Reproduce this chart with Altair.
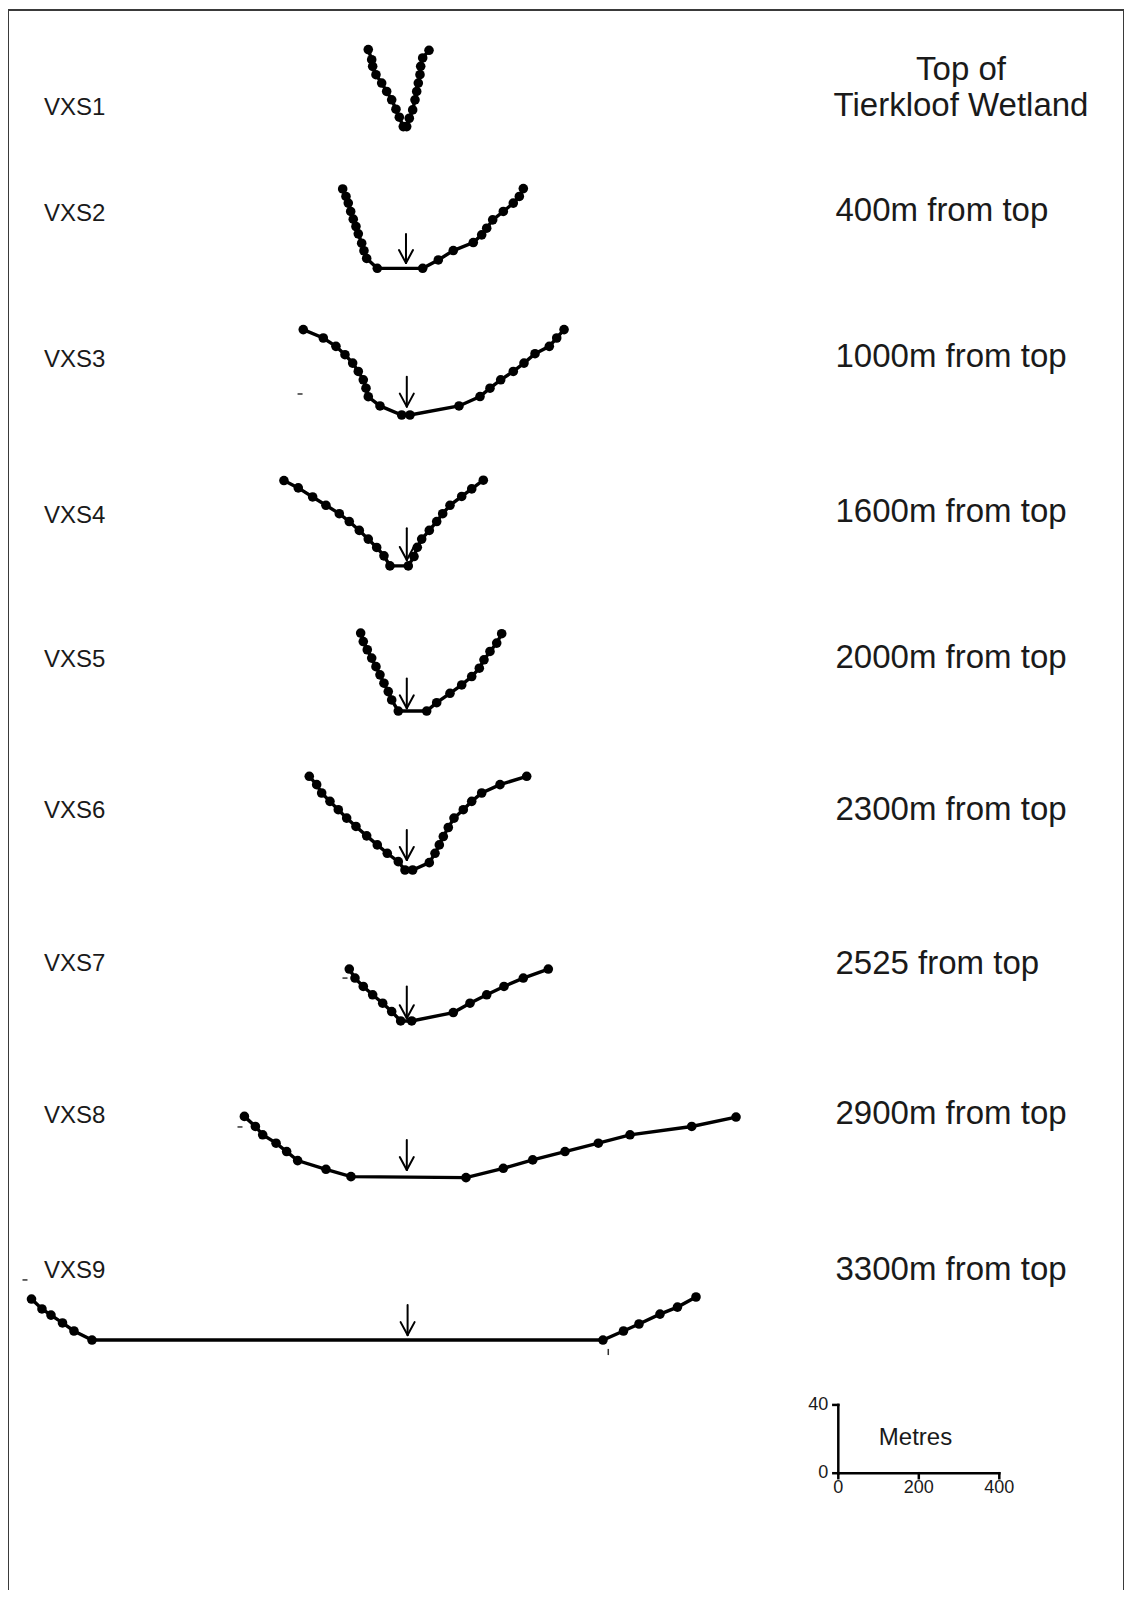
import altair as alt
import pandas as pd

# ---------------- data (distance across valley in m, elevation above bed in m) ----
profile_names = ["VXS1", "VXS2", "VXS3", "VXS4", "VXS5", "VXS6", "VXS7", "VXS8", "VXS9"]
right_labels = ["Top of\nTierkloof Wetland", "400m from top", "1000m from top", "1600m from top",
                "2000m from top", "2300m from top", "2525 from top", "2900m from top", "3300m from top"]

vxs1_dist = [-93.7, -85.2, -82.8, -74.6, -60.4, -48.0, -35.5, -24.9, -16.6, -6.7, 1.7, 8.2, 16.6,
             22.4, 26.6, 30.6, 34.8, 36.5, 41.5, 57.2]
vxs1_elev = [45.1, 39.2, 35.3, 30.4, 25.5, 20.6, 15.7, 10.2, 5.5, 0, 0, 4.9, 9.8, 15.7, 20.6, 25.5,
             30.4, 35.3, 40.2, 44.7]

vxs2_dist = [-157.3, -149.1, -143.4, -137.4, -131.0, -124.3, -118.5, -110.1, -104.4, -97.7, -71.3,
             41.5, 80.3, 117.5, 167.2, 188.1, 200.5, 215.4, 241.8, 266.6, 281.6, 291.5]
vxs2_elev = [46.5, 42.1, 38.2, 33.3, 28.8, 24.5, 20.2, 14.7, 10.3, 5.8, 0, 0, 4.9, 10.4, 15.1, 19.6,
             23.5, 28.4, 33.3, 38.2, 42.1, 46.7]

vxs3_dist = [-255.2, -205.5, -174.0, -151.6, -132.5, -118.5, -106.1, -99.4, -93.7, -64.6, -10.7,
             9.9, 131.7, 183.9, 208.7, 235.3, 266.6, 293.2, 320.6, 356.1, 374.5, 392.7]
vxs3_elev = [50.0, 45.1, 40.2, 35.3, 30.4, 25.5, 20.6, 15.7, 10.7, 5.3, 0, 0, 5.3, 10.8, 15.7, 20.6,
             25.5, 30.4, 35.9, 40.2, 45.1, 50.0]

vxs4_dist = [-303.2, -267.6, -231.9, -198.8, -165.7, -140.9, -116.0, -93.7, -72.8, -54.7, -39.8,
             5.7, 19.9, 28.1, 39.0, 57.9, 76.3, 91.2, 109.3, 138.4, 163.3, 192.1]
vxs4_elev = [50.0, 45.7, 40.4, 35.5, 30.6, 26.0, 20.8, 15.7, 10.8, 5.9, 0, 0, 5.5, 10.9, 15.7, 20.8,
             26.0, 30.6, 35.5, 40.7, 45.1, 50.2]

vxs5_dist = [-112.6, -106.1, -96.2, -85.2, -74.6, -64.6, -54.7, -44.0, -35.5, -19.1, 51.4, 76.3,
             109.3, 138.4, 163.3, 182.2, 193.8, 208.7, 225.4, 237.8]
vxs5_elev = [45.7, 40.7, 35.9, 31.0, 26.0, 21.2, 16.3, 11.4, 6.5, 0, 0, 4.9, 10.4, 15.3, 20.2, 25.1,
             30.0, 34.9, 39.8, 45.3]

vxs6_dist = [-240.3, -221.9, -209.5, -188.9, -168.2, -147.4, -124.3, -97.7, -71.3, -46.5, -19.1,
             -2.5, 16.6, 57.9, 72.1, 82.8, 92.7, 105.1, 119.3, 142.4, 163.3, 188.1, 233.6, 299.9]
vxs6_elev = [54.9, 50.0, 45.1, 40.2, 35.3, 30.4, 25.5, 20.0, 14.7, 9.8, 4.9, 0, 0, 4.3, 9.8, 14.7,
             19.6, 24.9, 30.4, 35.3, 40.2, 45.1, 50.0, 54.9]

vxs7_dist = [-140.9, -126.7, -106.1, -82.8, -57.9, -35.5, -13.2, 14.2, 117.5, 159.0, 200.5, 243.5,
             291.5, 353.6]
vxs7_elev = [30.4, 25.1, 20.2, 15.3, 10.4, 5.5, 0, 0, 4.9, 10.4, 15.3, 20.2, 25.1, 30.4]

vxs8_dist = [-401.5, -374.2, -356.0, -322.8, -296.5, -269.2, -198.8, -136.7, 149.1, 241.8, 314.9,
             395.1, 477.9, 556.6, 709.9, 820.0]
vxs8_elev = [35.9, 30.0, 25.1, 20.2, 15.3, 10.0, 4.9, 0.6, 0, 5.5, 10.4, 15.3, 20.2, 25.1, 30.0, 35.5]

vxs9_dist = [-930.4, -904.4, -882.0, -853.4, -824.9, -780.1, 489.4, 540.4, 578.9, 631.1, 674.5, 720.5]
vxs9_elev = [24.0, 18.2, 14.6, 10.0, 5.3, 0, 0, 5.3, 9.4, 15.2, 19.3, 25.2]

# thalweg arrows (position across valley, tip and tail height above bed, m)
arrow_x = [0, 2, 2, 2, 2, 2, 2, 4]
arrow_tip = [3.1, 4.9, 3.5, 1.6, 5.9, 1.6, 4.5, 2.9]
arrow_top = [20.1, 22.4, 22.1, 19.1, 23.4, 20.1, 22.1, 20.5]

# scale bar
scale_x_ticks = [0, 200, 400]
scale_y_ticks = [0, 40]
scale_unit = "Metres"

# stray marks on the original figure (x from, x to, y from, y to)
stray_x1 = [-269.4, -157.8, -418.6, -952.8, 502.6]
stray_x2 = [-257.0, -145.3, -406.2, -940.4, 502.6]
stray_y1 = [700.5, 358.4, 271.2, 181.6, 141.2]
stray_y2 = [700.5, 358.4, 271.2, 181.6, 137.6]

# ---------------- layout (plot units: horizontal m, vertical stacked m) ----------
X_MIN, X_MAX = -988.8, 1783.9
Y_MAX = 925.4
row_base = [857.1, 774.1, 688.2, 599.8, 514.8, 421.7, 333.3, 241.5, 146.4]
left_label_y = [868.0, 805.9, 720.6, 629.3, 544.5, 456.3, 366.6, 277.8, 186.8]
right_label_y = [890.1, 807.7, 722.4, 631.1, 545.7, 456.8, 366.7, 279.0, 187.7]
LEFT_LABEL_X = -899.4
RIGHT_LABEL_X = 1067.1
TOP_LABEL_CX = 1378.9
SCALE_X0, SCALE_Y0 = 1074.1, 68.4

dists = [vxs1_dist, vxs2_dist, vxs3_dist, vxs4_dist, vxs5_dist, vxs6_dist, vxs7_dist, vxs8_dist, vxs9_dist]
elevs = [vxs1_elev, vxs2_elev, vxs3_elev, vxs4_elev, vxs5_elev, vxs6_elev, vxs7_elev, vxs8_elev, vxs9_elev]

rows = []
for i, (name, d, e) in enumerate(zip(profile_names, dists, elevs)):
    for j, (x, z) in enumerate(zip(d, e)):
        rows.append({"profile": name, "order": j, "dist": x, "y": row_base[i] + z})
prof = pd.DataFrame(rows)

HEAD_W, HEAD_H = 17.4, 7.6
segs = []
for k, (ax, tip, top) in enumerate(zip(arrow_x, arrow_tip, arrow_top)):
    b = row_base[k + 1]
    segs.append({"dist": ax, "dist2": ax, "y": b + tip, "y2": b + top})
    segs.append({"dist": ax - HEAD_W, "dist2": ax, "y": b + tip + HEAD_H, "y2": b + tip})
    segs.append({"dist": ax + HEAD_W, "dist2": ax, "y": b + tip + HEAD_H, "y2": b + tip})
# scale bar lines
segs_scale = [
    {"dist": SCALE_X0, "dist2": SCALE_X0 + max(scale_x_ticks), "y": SCALE_Y0, "y2": SCALE_Y0},
    {"dist": SCALE_X0, "dist2": SCALE_X0, "y": SCALE_Y0, "y2": SCALE_Y0 + max(scale_y_ticks)},
]
for t in scale_x_ticks:
    segs_scale.append({"dist": SCALE_X0 + t, "dist2": SCALE_X0 + t, "y": SCALE_Y0, "y2": SCALE_Y0 - 2.9})
for t in scale_y_ticks:
    segs_scale.append({"dist": SCALE_X0 - 12.4, "dist2": SCALE_X0, "y": SCALE_Y0 + t, "y2": SCALE_Y0 + t})
arrows = pd.DataFrame(segs)
scalebar = pd.DataFrame(segs_scale)
stray = pd.DataFrame({"dist": stray_x1, "dist2": stray_x2, "y": stray_y1, "y2": stray_y2})
frame = pd.DataFrame({"dist": [X_MIN, X_MIN, X_MAX], "dist2": [X_MAX, X_MIN, X_MAX],
                      "y": [Y_MAX, 0, 0], "y2": [Y_MAX, Y_MAX, Y_MAX]})

left_df = pd.DataFrame({"dist": [LEFT_LABEL_X] * 9, "y": left_label_y, "text": profile_names})
right_df = pd.DataFrame({"dist": [RIGHT_LABEL_X] * 8, "y": right_label_y[1:], "text": right_labels[1:]})
top_df = pd.DataFrame({"dist": [TOP_LABEL_CX], "y": [right_label_y[0]], "text": [right_labels[0]]})
sx_lab = pd.DataFrame({"dist": [SCALE_X0 + t for t in scale_x_ticks], "y": [SCALE_Y0 - 8.8] * 3,
                       "text": [str(t) for t in scale_x_ticks]})
sy_lab = pd.DataFrame({"dist": [SCALE_X0 - 25] * 2, "y": [SCALE_Y0 + t for t in scale_y_ticks],
                       "text": [str(t) for t in scale_y_ticks]})
unit_df = pd.DataFrame({"dist": [1265.9], "y": [89.0], "text": [scale_unit]})

xs = alt.Scale(domain=[X_MIN, X_MAX], nice=False, zero=False)
ys = alt.Scale(domain=[0, Y_MAX], nice=False, zero=False)
X = alt.X("dist:Q", scale=xs, axis=None)
Y = alt.Y("y:Q", scale=ys, axis=None)
X2 = alt.X2("dist2:Q")
Y2 = alt.Y2("y2:Q")
FONT = "Liberation Sans"
INK = "#1a1a1a"

frame_layer = alt.Chart(frame).mark_rule(color="#3a3a3a", strokeWidth=2).encode(
    x=X, x2=X2, y=Y, y2=Y2)
lines = alt.Chart(prof).mark_line(color="black", strokeWidth=3.4).encode(
    x=X, y=Y, detail="profile:N", order="order:Q")
dots = alt.Chart(prof).mark_circle(color="black", size=92, opacity=1).encode(x=X, y=Y)
arrow_layer = alt.Chart(arrows).mark_rule(color="black", strokeWidth=2, strokeCap="round").encode(
    x=X, x2=X2, y=Y, y2=Y2)
scale_layer = alt.Chart(scalebar).mark_rule(color="black", strokeWidth=2.5, strokeCap="square").encode(
    x=X, x2=X2, y=Y, y2=Y2)
stray_layer = alt.Chart(stray).mark_rule(color="#333333", strokeWidth=1.5).encode(
    x=X, x2=X2, y=Y, y2=Y2)
left_txt = alt.Chart(left_df).mark_text(align="left", baseline="middle", font=FONT, fontSize=24,
                                         color=INK).encode(x=X, y=Y, text="text:N")
right_txt = alt.Chart(right_df).mark_text(align="left", baseline="middle", font=FONT, fontSize=33,
                                           color=INK).encode(x=X, y=Y, text="text:N")
top_txt = alt.Chart(top_df).mark_text(align="center", baseline="middle", font=FONT, fontSize=33,
                                       lineBreak="\n", lineHeight=36, color=INK).encode(
    x=X, y=Y, text="text:N")
sx_txt = alt.Chart(sx_lab).mark_text(align="center", baseline="middle", font=FONT, fontSize=18,
                                      color=INK).encode(x=X, y=Y, text="text:N")
sy_txt = alt.Chart(sy_lab).mark_text(align="right", baseline="middle", font=FONT, fontSize=18,
                                      color=INK).encode(x=X, y=Y, text="text:N")
unit_txt = alt.Chart(unit_df).mark_text(align="center", baseline="middle", font=FONT, fontSize=24,
                                         color=INK).encode(x=X, y=Y, text="text:N")

chart = alt.layer(frame_layer, lines, dots, arrow_layer, scale_layer, stray_layer, left_txt,
                  right_txt, top_txt, sx_txt, sy_txt, unit_txt).properties(
    width=1116, height=1580,
    autosize=alt.AutoSizeParams(type="none"),
    padding={"top": 2, "left": 0, "right": 0, "bottom": 0},
).configure_view(stroke=None)

chart.save("out.html", embed_options={"renderer": "svg", "actions": False})
